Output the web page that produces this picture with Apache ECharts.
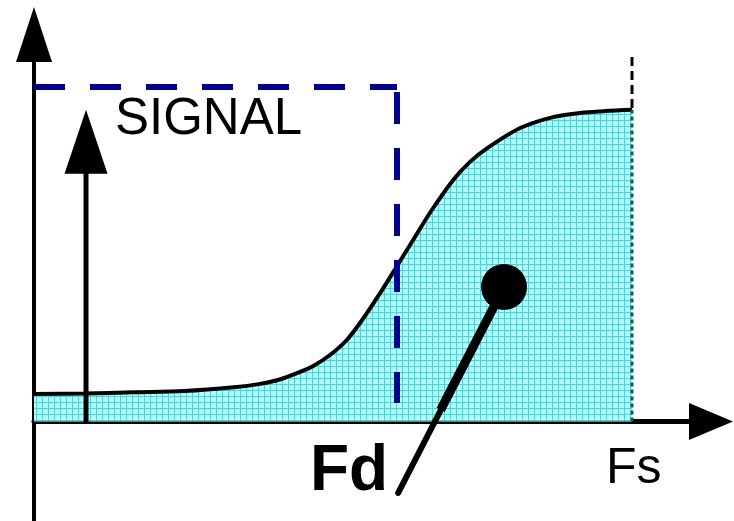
<!DOCTYPE html>
<html>
<head>
<meta charset="utf-8">
<script src="https://cdn.jsdelivr.net/npm/echarts@6/dist/echarts.min.js"></script>
<style>
html, body { margin: 0; padding: 0; background: #ffffff; }
#chart { width: 734px; height: 521px; }
</style>
</head>
<body>
<div id="chart"></div>
<script>
// frequency is normalised so that Fs = 1, level so that the noise top = 1
var noiseFreq  = [0, 0.084, 0.167, 0.251, 0.334, 0.378, 0.411, 0.445, 0.467, 0.495, 0.523, 0.550, 0.579, 0.607, 0.634, 0.662, 0.701, 0.729, 0.758, 0.813, 0.868, 0.913, 0.955, 1];
var noiseLevel = [0.088, 0.089, 0.093, 0.097, 0.109, 0.120, 0.134, 0.158, 0.177, 0.212, 0.260, 0.327, 0.410, 0.496, 0.579, 0.665, 0.770, 0.828, 0.872, 0.936, 0.971, 0.984, 0.990, 0.994];

// dashed signal band (blue)
var bandTopFreq  = [0, 0.607];
var bandTopLevel = [1.067, 1.067];
var bandSideFreq  = [0.607, 0.607];
var bandSideLevel = [1.051, 0.059];

// signal tone
var signalFreq  = [0.087, 0.087];
var signalLevel = [-0.008, 0.892];

// Fs edge
var fsFreq = [1, 1];
var fsLowLevel = [0, 0.994];
var fsHighLevel = [1, 1.169];

// Fd pointer (knob + needle)
var needleFreq  = [0.786, 0.609];
var needleLevel = [0.429, -0.228];
var needleThickFreq  = [0.786, 0.680];
var needleThickLevel = [0.429, 0.037];

function pairs(xs, ys) {
    var out = [];
    for (var i = 0; i < xs.length; i++) out.push([xs[i], ys[i]]);
    return out;
}

// cyan grid texture of the noise area
var tex = document.createElement('canvas');
tex.width = 6; tex.height = 6;
var g = tex.getContext('2d');
g.fillStyle = '#a6fbfb';
g.fillRect(0, 0, 6, 6);
g.fillStyle = '#d8ffff';
for (var i = 0; i < 6; i++) for (var j = 0; j < 6; j++) if ((i + j) % 2 == 0) g.fillRect(i, j, 1, 1);
g.fillStyle = '#1ee8ee';
g.fillRect(0, 0, 6, 1);
g.fillRect(0, 0, 1, 6);

var font = '"Liberation Sans", Arial, sans-serif';
var chart = echarts.init(document.getElementById('chart'));

chart.setOption({
    animation: false,
    grid: { left: 34, right: 23, top: 34.5, bottom: 0 },
    xAxis: {
        type: 'value', min: 0, max: 1.1321,
        axisLine: { onZero: true, lineStyle: { color: '#000', width: 5 }, symbol: ['none', 'triangle'], symbolSize: [37, 44] },
        axisTick: { show: false }, axisLabel: { show: false }, splitLine: { show: false }
    },
    yAxis: {
        type: 'value', min: -0.3174, max: 1.2344,
        axisLine: { show: true, lineStyle: { color: '#000', width: 4 }, symbol: ['none', 'triangle'], symbolSize: [36, 55] },
        axisTick: { show: false }, axisLabel: { show: false }, splitLine: { show: false }
    },
    series: [
        {
            // shaped noise
            type: 'line', data: pairs(noiseFreq, noiseLevel), smooth: 0.3, symbol: 'none',
            lineStyle: { color: '#000', width: 4 },
            areaStyle: { color: { image: tex, repeat: 'repeat' }, opacity: 1 }
        },
        {
            type: 'line', data: pairs(fsFreq, fsLowLevel), symbol: 'none',
            lineStyle: { color: '#0b5c5c', width: 3, type: [4, 3] }
        },
        {
            type: 'line', data: pairs(fsFreq, fsHighLevel), symbol: 'none',
            lineStyle: { color: '#000', width: 3, type: [9, 5] }
        },
        {
            type: 'line', data: pairs(bandTopFreq, bandTopLevel), symbol: 'none',
            lineStyle: { color: '#000099', width: 6, type: [31, 25] }
        },
        {
            type: 'line', data: pairs(bandSideFreq, bandSideLevel), symbol: 'none',
            lineStyle: { color: '#000099', width: 6, type: [32, 24] }
        },
        {
            type: 'line', symbol: 'none', showAllSymbol: true,
            data: [
                { value: [signalFreq[0], signalLevel[0]] },
                { value: [signalFreq[1], signalLevel[1]], symbol: 'triangle', symbolSize: [43, 64] }
            ],
            lineStyle: { color: '#000', width: 5 },
            itemStyle: { color: '#000' }
        },
        {
            type: 'line', data: pairs(needleFreq, needleLevel), symbol: 'none',
            lineStyle: { color: '#000', width: 6, cap: 'round' }
        },
        {
            type: 'line', symbol: 'none', showAllSymbol: true,
            data: [
                { value: [needleThickFreq[0], needleThickLevel[0]], symbol: 'circle', symbolSize: 46 },
                { value: [needleThickFreq[1], needleThickLevel[1]] }
            ],
            lineStyle: { color: '#000', width: 9 },
            itemStyle: { color: '#000', borderWidth: 0 }
        }
    ],
    graphic: [
        { type: 'text', left: 115, top: 94, style: { text: 'SIGNAL', font: '51px ' + font, fill: '#000' } },
        { type: 'text', left: 310, top: 440, style: { text: 'Fd', font: 'bold 64px ' + font, fill: '#000' } },
        { type: 'text', left: 606, top: 444, style: { text: 'Fs', font: '50px ' + font, fill: '#000' } }
    ]
});
</script>
</body>
</html>
